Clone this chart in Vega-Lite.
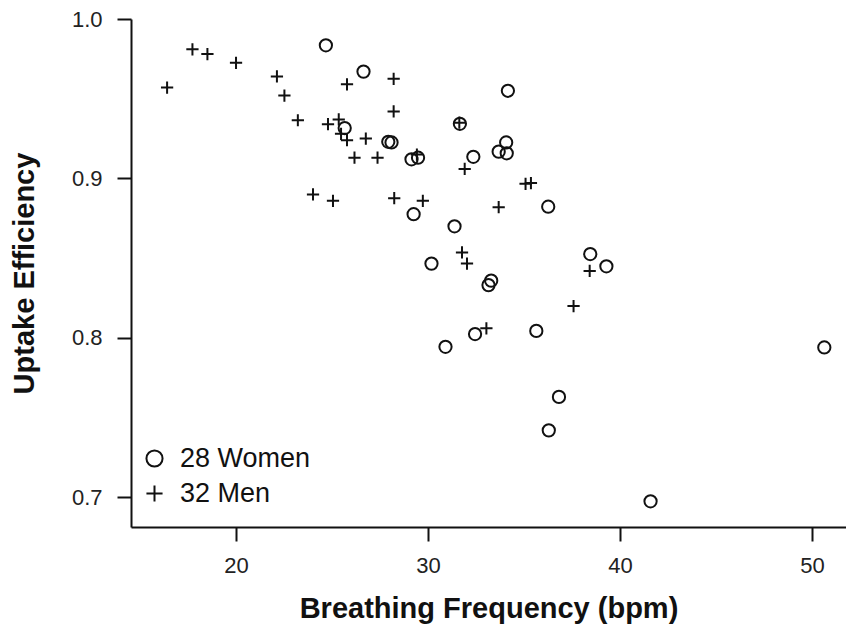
{
  "$schema": "https://vega.github.io/schema/vega-lite/v6.json",
  "autosize": "none",
  "width": 715,
  "height": 508,
  "padding": {"left": 131, "top": 19, "right": 0, "bottom": 98},
  "background": "white",
  "config": {
    "view": {"stroke": null},
    "font": "Liberation Sans",
    "axis": {
      "domainColor": "#111",
      "domainWidth": 2,
      "tickColor": "#111",
      "tickWidth": 2,
      "tickSize": 14,
      "grid": false,
      "labelFont": "Liberation Sans",
      "labelFontSize": 22,
      "labelColor": "#222",
      "titleFont": "Liberation Sans",
      "titleFontWeight": "bold",
      "titleFontSize": 29,
      "titleColor": "#111"
    }
  },
  "data": {
    "values": [
      {"group": "Men", "bpm": 16.41, "eff": 0.957},
      {"group": "Men", "bpm": 17.73, "eff": 0.981},
      {"group": "Men", "bpm": 18.51, "eff": 0.978},
      {"group": "Men", "bpm": 20.0, "eff": 0.9725},
      {"group": "Men", "bpm": 22.13, "eff": 0.964},
      {"group": "Men", "bpm": 22.52, "eff": 0.952},
      {"group": "Men", "bpm": 23.22, "eff": 0.9365},
      {"group": "Men", "bpm": 24.01, "eff": 0.89},
      {"group": "Men", "bpm": 25.05, "eff": 0.886},
      {"group": "Men", "bpm": 24.79, "eff": 0.934},
      {"group": "Men", "bpm": 25.35, "eff": 0.937},
      {"group": "Men", "bpm": 25.47, "eff": 0.928},
      {"group": "Men", "bpm": 25.78, "eff": 0.959},
      {"group": "Men", "bpm": 25.78, "eff": 0.924},
      {"group": "Men", "bpm": 26.17, "eff": 0.913},
      {"group": "Men", "bpm": 26.76, "eff": 0.925},
      {"group": "Men", "bpm": 27.37, "eff": 0.913},
      {"group": "Men", "bpm": 28.21, "eff": 0.9625},
      {"group": "Men", "bpm": 28.21, "eff": 0.942},
      {"group": "Men", "bpm": 28.24, "eff": 0.8876},
      {"group": "Men", "bpm": 29.42, "eff": 0.915},
      {"group": "Men", "bpm": 29.73, "eff": 0.886},
      {"group": "Men", "bpm": 31.63, "eff": 0.935},
      {"group": "Men", "bpm": 31.91, "eff": 0.906},
      {"group": "Men", "bpm": 31.77, "eff": 0.8536},
      {"group": "Men", "bpm": 32.03, "eff": 0.8466},
      {"group": "Men", "bpm": 33.04, "eff": 0.806},
      {"group": "Men", "bpm": 33.68, "eff": 0.882},
      {"group": "Men", "bpm": 35.08, "eff": 0.8966},
      {"group": "Men", "bpm": 35.36, "eff": 0.8971},
      {"group": "Men", "bpm": 37.58, "eff": 0.82},
      {"group": "Men", "bpm": 38.42, "eff": 0.842},
      {"group": "Women", "bpm": 24.68, "eff": 0.9835},
      {"group": "Women", "bpm": 26.64, "eff": 0.967},
      {"group": "Women", "bpm": 25.66, "eff": 0.9316},
      {"group": "Women", "bpm": 27.93, "eff": 0.923},
      {"group": "Women", "bpm": 28.1, "eff": 0.9226},
      {"group": "Women", "bpm": 29.14, "eff": 0.912},
      {"group": "Women", "bpm": 29.48, "eff": 0.913},
      {"group": "Women", "bpm": 29.25, "eff": 0.8776},
      {"group": "Women", "bpm": 31.66, "eff": 0.9343},
      {"group": "Women", "bpm": 32.36, "eff": 0.9136},
      {"group": "Women", "bpm": 31.38, "eff": 0.87},
      {"group": "Women", "bpm": 30.18, "eff": 0.8466},
      {"group": "Women", "bpm": 30.91, "eff": 0.7944},
      {"group": "Women", "bpm": 32.45, "eff": 0.8024},
      {"group": "Women", "bpm": 33.15, "eff": 0.8331},
      {"group": "Women", "bpm": 33.29, "eff": 0.8359},
      {"group": "Women", "bpm": 33.68, "eff": 0.9168},
      {"group": "Women", "bpm": 34.1, "eff": 0.9158},
      {"group": "Women", "bpm": 34.07, "eff": 0.9226},
      {"group": "Women", "bpm": 34.16, "eff": 0.955},
      {"group": "Women", "bpm": 36.26, "eff": 0.8823},
      {"group": "Women", "bpm": 35.64, "eff": 0.8044},
      {"group": "Women", "bpm": 36.82, "eff": 0.763},
      {"group": "Women", "bpm": 36.29, "eff": 0.742},
      {"group": "Women", "bpm": 38.45, "eff": 0.8526},
      {"group": "Women", "bpm": 39.29, "eff": 0.8449},
      {"group": "Women", "bpm": 41.59, "eff": 0.6975},
      {"group": "Women", "bpm": 50.64, "eff": 0.794}
    ]
  },
  "mark": {"type": "point", "filled": false, "color": "#111", "strokeWidth": 2, "opacity": 1, "size": 150},
  "encoding": {
    "x": {
      "field": "bpm",
      "type": "quantitative",
      "scale": {"domain": [14.53, 51.77], "nice": false, "zero": false},
      "axis": {"values": [20, 30, 40, 50], "title": "Breathing Frequency (bpm)", "labelPadding": 14, "titlePadding": 18}
    },
    "y": {
      "field": "eff",
      "type": "quantitative",
      "scale": {"domain": [0.6814, 1.0], "nice": false, "zero": false},
      "axis": {"values": [0.7, 0.8, 0.9, 1.0], "format": ".1f", "title": "Uptake Efficiency", "labelPadding": 15, "titlePadding": 32}
    },
    "shape": {
      "field": "group",
      "type": "nominal",
      "scale": {"domain": ["Women", "Men"], "range": ["circle", "M-1,0L1,0M0,-1L0,1"]},
      "legend": {
        "title": null,
        "orient": "none",
        "legendX": 10,
        "legendY": 426,
        "labelExpr": "datum.label == 'Women' ? '28 Women' : '32 Men'",
        "labelFont": "Liberation Sans",
        "labelFontSize": 27,
        "labelColor": "#111",
        "labelOffset": 12,
        "symbolSize": 260,
        "symbolStrokeWidth": 2,
        "symbolStrokeColor": "#111",
        "symbolFillColor": "transparent",
        "rowPadding": 7,
        "padding": 0
      }
    }
  }
}
